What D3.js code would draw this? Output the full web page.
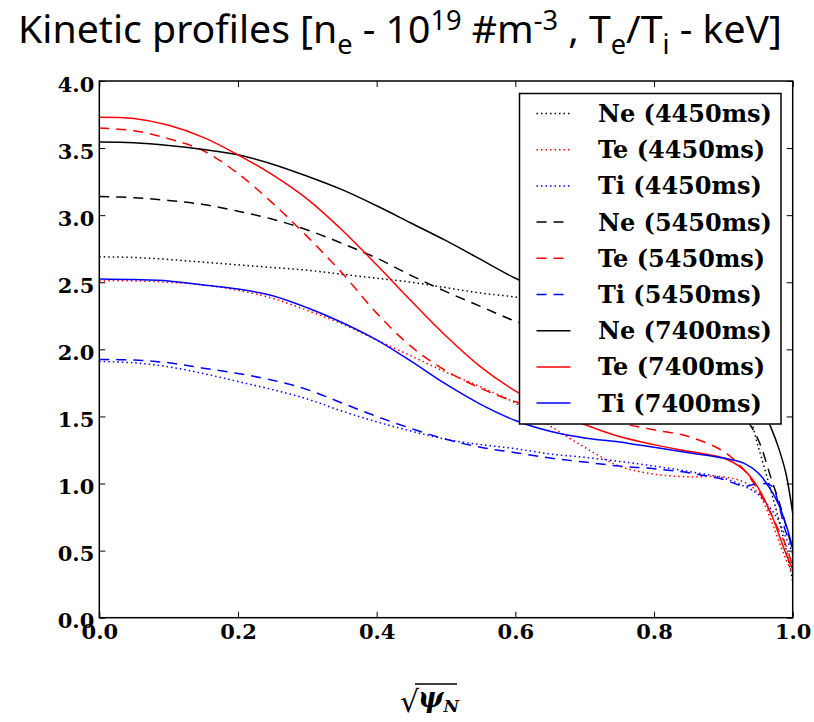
<!DOCTYPE html>
<html>
<head>
<meta charset="utf-8">
<script src="https://cdn.jsdelivr.net/npm/d3@7"></script>
<style>
  body { margin: 0; background: #fff; }
  svg { display: block; }
</style>
</head>
<body>
<svg class="chart"></svg>
<script>
// sqrt(psi_N) grid shared by all profiles
var xs = [0, 0.05, 0.1, 0.15, 0.2, 0.25, 0.3, 0.35, 0.4, 0.45, 0.5, 0.55, 0.6,
          0.65, 0.7, 0.75, 0.8, 0.85, 0.9, 0.93, 0.95, 0.97, 0.98, 0.99, 1.0];

var ne4450 = [2.69, 2.685, 2.67, 2.65, 2.63, 2.61, 2.59, 2.56, 2.53, 2.50, 2.46, 2.42, 2.39,
              2.35, 2.30, 2.23, 2.15, 2.03, 1.85, 1.62, 1.28, 0.92, 0.73, 0.52, 0.27];
var te4450 = [2.51, 2.51, 2.50, 2.48, 2.44, 2.38, 2.29, 2.19, 2.07, 1.95, 1.83, 1.72, 1.60,
              1.43, 1.27, 1.13, 1.07, 1.05, 1.05, 1.01, 0.93, 0.71, 0.57, 0.44, 0.33];
var ti4450 = [1.91, 1.90, 1.87, 1.82, 1.76, 1.70, 1.63, 1.54, 1.46, 1.39, 1.33, 1.29, 1.26,
              1.22, 1.195, 1.165, 1.13, 1.09, 1.04, 0.98, 0.92, 0.80, 0.72, 0.60, 0.48];
var ne5450 = [3.14, 3.13, 3.11, 3.08, 3.03, 2.97, 2.89, 2.79, 2.68, 2.55, 2.43, 2.32, 2.21,
              2.13, 2.05, 1.98, 1.90, 1.80, 1.66, 1.50, 1.33, 1.02, 0.87, 0.69, 0.50];
var te5450 = [3.65, 3.63, 3.57, 3.48, 3.31, 3.09, 2.84, 2.57, 2.27, 2.02, 1.84, 1.71, 1.61,
              1.55, 1.50, 1.45, 1.40, 1.35, 1.24, 1.10, 0.95, 0.76, 0.65, 0.54, 0.38];
var ti5450 = [1.925, 1.92, 1.90, 1.86, 1.82, 1.77, 1.70, 1.60, 1.50, 1.41, 1.33, 1.27, 1.23,
              1.19, 1.16, 1.13, 1.11, 1.08, 1.03, 0.98, 1.00, 0.98, 0.84, 0.64, 0.52];
var ne7400 = [3.545, 3.54, 3.52, 3.49, 3.45, 3.38, 3.29, 3.19, 3.07, 2.94, 2.81, 2.67, 2.53,
              2.42, 2.30, 2.20, 2.10, 2.00, 1.88, 1.76, 1.62, 1.40, 1.26, 1.08, 0.78];
var te7400 = [3.73, 3.72, 3.67, 3.58, 3.45, 3.30, 3.12, 2.89, 2.63, 2.36, 2.10, 1.87, 1.69,
              1.55, 1.44, 1.35, 1.29, 1.24, 1.19, 1.10, 0.97, 0.76, 0.62, 0.48, 0.36];
var ti7400 = [2.525, 2.52, 2.51, 2.48, 2.45, 2.40, 2.31, 2.20, 2.07, 1.91, 1.74, 1.59, 1.47,
              1.39, 1.34, 1.31, 1.27, 1.23, 1.19, 1.15, 1.08, 0.94, 0.84, 0.70, 0.52];

var labels = ["Ne (4450ms)", "Te (4450ms)", "Ti (4450ms)",
              "Ne (5450ms)", "Te (5450ms)", "Ti (5450ms)",
              "Ne (7400ms)", "Te (7400ms)", "Ti (7400ms)"];
var xTicks = [0, 0.2, 0.4, 0.6, 0.8, 1.0];
var yTicks = [0, 0.5, 1.0, 1.5, 2.0, 2.5, 3.0, 3.5, 4.0];

var seriesValues = [ne4450, te4450, ti4450, ne5450, te5450, ti5450, ne7400, te7400, ti7400];
var colors = ["#000", "#f00", "#00f"];
var dashes = ["1.5,3", "10,7", null];

var W = 814, H = 722;
// plot box (window.top is read-only, so own names)
var pL = 99.3, pR = 792.7, pT = 81, pB = 617.7;

var svg = d3.select("svg.chart").attr("width", W).attr("height", H);

var x = d3.scaleLinear().domain([0, 1]).range([pL, pR]);
var y = d3.scaleLinear().domain([0, 4]).range([pB, pT]);

// title
var title = svg.append("text")
    .attr("x", 18).attr("y", 43)
    .attr("font-family", "'Noto Sans', sans-serif")
    .attr("font-size", 39)
    .attr("textLength", 764)
    .attr("lengthAdjust", "spacingAndGlyphs");
var parts = [["Kinetic profiles [n", 0, 39], ["e", 11, 27], [" - 10", -11, 39], ["19", -13, 27],
             [" #m", 13, 39], ["-3", -13, 27], [" , T", 13, 39], ["e", 11, 27],
             ["/T", -11, 39], ["i", 11, 27], [" - keV]", -11, 39]];
parts.forEach(function(p) {
    title.append("tspan").attr("dy", p[1]).attr("font-size", p[2]).text(p[0]);
});

svg.append("clipPath").attr("id", "plotclip")
  .append("rect")
    .attr("x", pL).attr("y", pT - 2)
    .attr("width", pR - pL + 2).attr("height", pB - pT + 2);

var line = d3.line()
    .x(function(d) { return x(d[0]); })
    .y(function(d) { return y(d[1]); })
    .curve(d3.curveCatmullRom.alpha(0.5));

var series = seriesValues.map(function(vals, i) {
    return {
        name: labels[i],
        color: colors[i % 3],
        dash: dashes[Math.floor(i / 3)],
        points: xs.map(function(v, j) { return [v, vals[j]]; })
    };
});

svg.append("g").attr("clip-path", "url(#plotclip)")
  .selectAll("path")
  .data(series)
  .enter().append("path")
    .attr("d", function(d) { return line(d.points); })
    .attr("fill", "none")
    .attr("stroke", function(d) { return d.color; })
    .attr("stroke-width", 1.5)
    .attr("stroke-dasharray", function(d) { return d.dash; });

// axes: ticks point inward on all four sides
var tickFont = "'DejaVu Serif', serif";
var gx = svg.append("g")
    .attr("transform", "translate(0," + pB + ")")
    .call(d3.axisBottom(x).tickValues(xTicks).tickSizeInner(-6).tickSizeOuter(0)
        .tickFormat(d3.format(".1f")));
var gxTop = svg.append("g")
    .attr("transform", "translate(0," + pT + ")")
    .call(d3.axisTop(x).tickValues(xTicks).tickSizeInner(-6).tickSizeOuter(0)
        .tickFormat(""));
var gy = svg.append("g")
    .attr("transform", "translate(" + pL + ",0)")
    .call(d3.axisLeft(y).tickValues(yTicks).tickSizeInner(-6).tickSizeOuter(0)
        .tickFormat(d3.format(".1f")));
var gyRight = svg.append("g")
    .attr("transform", "translate(" + pR + ",0)")
    .call(d3.axisRight(y).tickValues(yTicks).tickSizeInner(-6).tickSizeOuter(0)
        .tickFormat(""));

[gx, gxTop, gy, gyRight].forEach(function(g) {
    g.select(".domain").remove();
    g.selectAll(".tick line").attr("stroke", "#000").attr("stroke-width", 1);
});
gx.selectAll(".tick text")
    .attr("y", 21).attr("dy", 0)
    .attr("font-family", tickFont).attr("font-weight", "bold")
    .attr("font-size", 21).attr("fill", "#000");
gy.selectAll(".tick text")
    .attr("x", -5).attr("dy", 10)
    .attr("font-family", tickFont).attr("font-weight", "bold")
    .attr("font-size", 21).attr("fill", "#000");

// frame
svg.append("rect")
    .attr("x", pL).attr("y", pT)
    .attr("width", pR - pL).attr("height", pB - pT)
    .attr("fill", "none").attr("stroke", "#000").attr("stroke-width", 1.5);

// legend
var lg = svg.append("g").attr("transform", "translate(519.5,93.5)");
lg.append("rect")
    .attr("width", 261.5).attr("height", 330.5)
    .attr("fill", "#fff").attr("stroke", "#000").attr("stroke-width", 1.5);
var rows = lg.selectAll("g.row")
    .data(series)
    .enter().append("g")
    .attr("class", "row")
    .attr("transform", function(d, i) { return "translate(0," + (20 + i * 36.2) + ")"; });
rows.append("line")
    .attr("x1", 17).attr("x2", 51)
    .attr("stroke", function(d) { return d.color; })
    .attr("stroke-width", 1.5)
    .attr("stroke-dasharray", function(d) { return d.dash; });
rows.append("text")
    .attr("x", 78.5).attr("dy", 8.5)
    .attr("font-family", tickFont).attr("font-weight", "bold")
    .attr("font-size", 24).attr("fill", "#000")
    .text(function(d) { return d.name; });

// x label: sqrt(psi_N)
var xl = svg.append("g").attr("transform", "translate(400,0)");
xl.append("text")
    .attr("x", 0).attr("y", 712)
    .attr("font-family", tickFont).attr("font-size", 30)
    .text("\u221A");
xl.append("line")
    .attr("x1", 15).attr("x2", 57).attr("y1", 684).attr("y2", 684)
    .attr("stroke", "#000").attr("stroke-width", 1.5);
var xt = xl.append("text")
    .attr("x", 18).attr("y", 707)
    .attr("font-family", tickFont).attr("font-weight", "bold").attr("font-style", "italic")
    .attr("font-size", 27);
xt.append("tspan").text("\u03C8");
xt.append("tspan").attr("dy", 5).attr("font-size", 17).text("N");
</script>
</body>
</html>
